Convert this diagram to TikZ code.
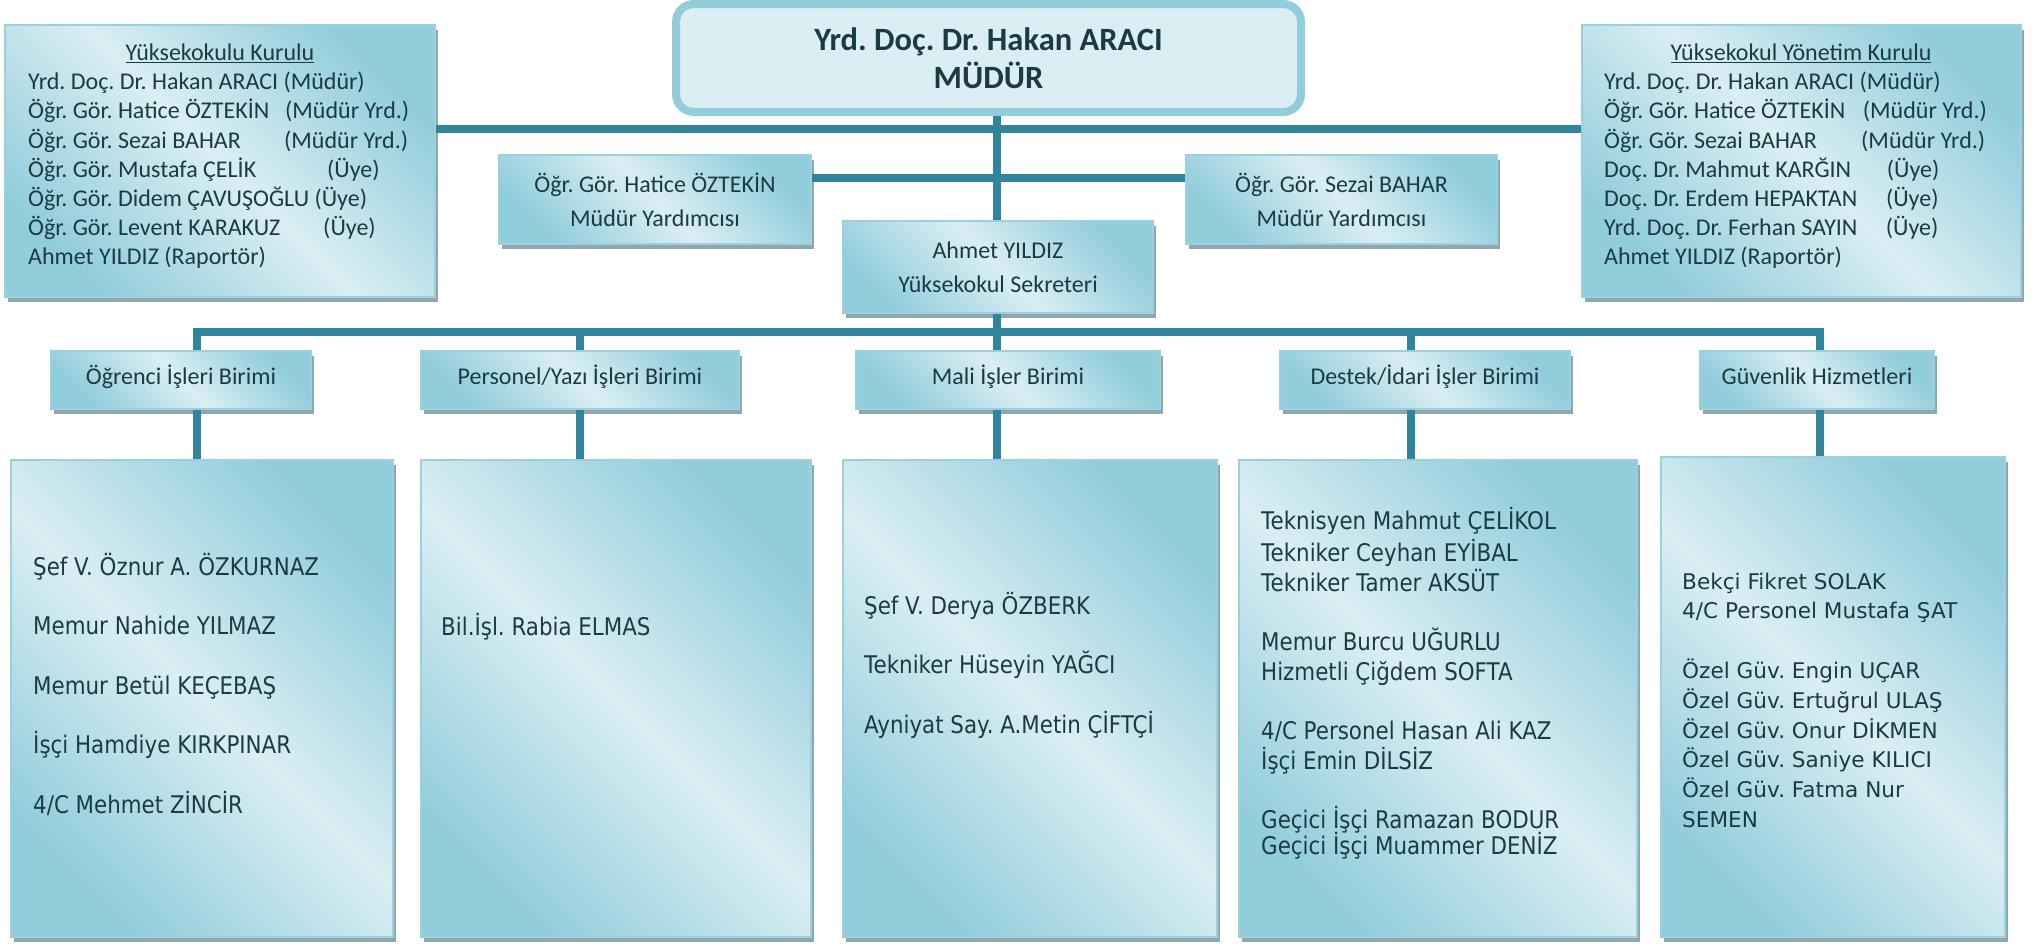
\documentclass[tikz,border=0pt]{standalone}
\usepackage{fontspec}
\setmainfont{Carlito}
\newfontfamily\tahoma[FakeStretch=0.88]{DejaVu Sans}
\newfontfamily\verdana{DejaVu Sans}
\usetikzlibrary{positioning,shadows}
\definecolor{acik}{HTML}{DAEEF3}
\definecolor{koyu}{HTML}{92CDDC}
\definecolor{cerceve}{HTML}{9BD1DF}
\definecolor{golge}{HTML}{8FA8AD}
\definecolor{hatrengi}{HTML}{31849B}
\definecolor{yazi}{HTML}{1B3A42}
\newcommand{\satir}[3]{\makebox[#1][l]{#2}#3}
\frenchspacing

\begin{document}
\begin{tikzpicture}[x=1pt, y=-1pt,
    kutu/.style={rectangle, draw=cerceve, line width=1.5pt, inner sep=0pt, text=yazi, align=center,
      top color=koyu, bottom color=koyu, middle color=acik, shading angle=-45,
      drop shadow={shadow xshift=3pt, shadow yshift=-5pt, fill=golge, opacity=1}},
    mudurkutu/.style={rectangle, rounded corners=18pt, draw=koyu, line width=8pt, fill=acik,
      minimum width=625pt, minimum height=108pt, align=center, text=yazi,
      font=\bfseries\fontsize{32.5}{38}\selectfont},
    baslik/.style={kutu, font=\fontsize{24}{34}\selectfont},
    birim/.style={kutu, minimum height=58pt, font=\fontsize{24}{29}\selectfont, text height=10pt, text depth=1.2pt},
    kadro/.style={kutu, minimum height=477pt},
    liste/.style={anchor=north west, inner sep=0pt, align=left, text=yazi},
    baglanti/.style={draw=hatrengi, line width=7.5pt}]
    \useasboundingbox[fill=white] (0,0) rectangle (2037,943);

    % kurullar
    \node[kutu, minimum width=430pt, minimum height=272pt] (kurul) at (220,161) {};
    \node[kutu, minimum width=439pt, minimum height=272pt] (yonetim) at (1801.5,161) {};
    \node[anchor=base, text=yazi, font=\fontsize{24}{29}\selectfont] (kurulbaslik) at (220,60.5) {\underline{Yüksekokulu Kurulu}};
    \node[anchor=base, text=yazi, font=\fontsize{24}{29}\selectfont] (yonetimbaslik) at (1801,60.5) {\underline{Yüksekokul Yönetim Kurulu}};
    \node[liste, font=\fontsize{24}{29.17}\selectfont] (kurulyazi) at (28,69.1) {\strut Yrd. Doç. Dr. Hakan ARACI (Müdür)\\
        \satir{257pt}{Öğr. Gör. Hatice ÖZTEKİN}{(Müdür Yrd.)}\\
        \satir{256pt}{Öğr. Gör. Sezai BAHAR}{(Müdür Yrd.)}\\
        \satir{299pt}{Öğr. Gör. Mustafa ÇELİK}{(Üye)}\\
        Öğr. Gör. Didem ÇAVUŞOĞLU (Üye)\\
        \satir{295pt}{Öğr. Gör. Levent KARAKUZ}{(Üye)}\\
        Ahmet YILDIZ (Raportör)};
    \node[liste, font=\fontsize{24}{29.17}\selectfont] (yonetimyazi) at (1604,69.1) {\strut Yrd. Doç. Dr. Hakan ARACI (Müdür)\\
        \satir{258.7pt}{Öğr. Gör. Hatice ÖZTEKİN}{(Müdür Yrd.)}\\
        \satir{257pt}{Öğr. Gör. Sezai BAHAR}{(Müdür Yrd.)}\\
        \satir{282.7pt}{Doç. Dr. Mahmut KARĞIN}{(Üye)}\\
        \satir{281.8pt}{Doç. Dr. Erdem HEPAKTAN}{(Üye)}\\
        \satir{281.8pt}{Yrd. Doç. Dr. Ferhan SAYIN}{(Üye)}\\
        Ahmet YILDIZ (Raportör)};

    % mudur, yardimcilar, sekreter
    \node[mudurkutu] (mudur) at (988.5,58) {Yrd. Doç. Dr. Hakan ARACI\\MÜDÜR};
    \node[baslik, minimum width=312pt, minimum height=89pt] (yrd1) at (655,199.5) {Öğr. Gör. Hatice ÖZTEKİN\\Müdür Yardımcısı};
    \node[baslik, minimum width=311pt, minimum height=89pt] (yrd2) at (1341.5,199.5) {Öğr. Gör. Sezai BAHAR\\Müdür Yardımcısı};
    \node[baslik, minimum width=310pt, minimum height=92pt] (sekreter) at (998,267) {Ahmet YILDIZ\\Yüksekokul Sekreteri};

    % birimler
    \node[birim, minimum width=260pt] (ogrenci) at (181,380) {Öğrenci İşleri Birimi};
    \node[birim, minimum width=318pt] (personel) at (580,380) {Personel/Yazı İşleri Birimi};
    \node[birim, minimum width=304pt] (mali) at (1008,380) {Mali İşler Birimi};
    \node[birim, minimum width=290pt] (destek) at (1425,380) {Destek/İdari İşler Birimi};
    \node[birim, minimum width=234pt] (guvenlik) at (1817,380) {Güvenlik Hizmetleri};

    % kadrolar
    \node[kadro, minimum width=382pt] (kadro1) at (202,698.5) {};
    \node[kadro, minimum width=390pt] (kadro2) at (616,698.5) {};
    \node[kadro, minimum width=374pt] (kadro3) at (1030,698.5) {};
    \node[kadro, minimum width=398pt] (kadro4) at (1438,698.5) {};
    \node[kadro, minimum width=344pt, minimum height=480pt] (kadro5) at (1833,697) {};

    \node[liste, font=\tahoma\fontsize{24.3}{59.5}\selectfont] (ogrenciyazi) at (33,533.4) {\strut Şef V. Öznur A. ÖZKURNAZ\\
        Memur Nahide YILMAZ\\Memur Betül KEÇEBAŞ\\İşçi Hamdiye KIRKPINAR\\4/C Mehmet ZİNCİR};
    \node[liste, font=\tahoma\fontsize{24.3}{59.5}\selectfont] (personelyazi) at (441,593.4) {\strut Bil.İşl. Rabia ELMAS};
    \node[liste, font=\tahoma\fontsize{24.3}{59.75}\selectfont] (maliyazi) at (864,572.2) {\strut Şef V. Derya ÖZBERK\\
        Tekniker Hüseyin YAĞCI\\Ayniyat Say. A.Metin ÇİFTÇİ};
    \node[liste, font=\tahoma\fontsize{24.3}{30}\selectfont] (destekyazi) at (1261,507) {\strut Teknisyen Mahmut ÇELİKOL\\
        Tekniker Ceyhan EYİBAL\\Tekniker Tamer AKSÜT\\[28.5pt]
        Memur Burcu UĞURLU\\Hizmetli Çiğdem SOFTA\\[29.5pt]
        4/C Personel Hasan Ali KAZ\\İşçi Emin DİLSİZ\\[29pt]
        Geçici İşçi Ramazan BODUR\\[-4pt]Geçici İşçi Muammer DENİZ};
    \node[liste, font=\verdana\fontsize{21.6}{29.7}\selectfont] (guvenlikyazi) at (1682,568) {\strut Bekçi Fikret SOLAK\\
        4/C Personel Mustafa ŞAT\\[30.3pt]
        Özel Güv. Engin UÇAR\\Özel Güv. Ertuğrul ULAŞ\\Özel Güv. Onur DİKMEN\\
        Özel Güv. Saniye KILICI\\Özel Güv. Fatma Nur\\SEMEN};

    % baglantilar
    \coordinate (ust) at (997,129);
    \coordinate (orta) at (997,178);
    \coordinate (k1) at (197,332);
    \coordinate (k2) at (580,332);
    \coordinate (k3) at (997,332);
    \coordinate (k4) at (1411,332);
    \coordinate (k5) at (1820,332);

    \draw[baglanti] (kurul.east |- ust) -- (yonetim.west |- ust);
    \draw[baglanti] (mudur.south -| k3) -- (sekreter.north -| k3);
    \draw[baglanti] (yrd1.east |- orta) -- (yrd2.west |- orta);
    \draw[baglanti] (sekreter.south -| k3) -- (k3);
    \draw[baglanti] (ogrenci.north -| k1) -- (k1) -- (k5) -- (guvenlik.north -| k5);
    \draw[baglanti] (k2) -- (personel.north -| k2);
    \draw[baglanti] (k3) -- (mali.north -| k3);
    \draw[baglanti] (k4) -- (destek.north -| k4);

    % birimden kadroya
    \draw[baglanti] (ogrenci.south -| k1) -- (kadro1.north -| k1);
    \draw[baglanti] (personel.south -| k2) -- (kadro2.north -| k2);
    \draw[baglanti] (mali.south -| k3) -- (kadro3.north -| k3);
    \draw[baglanti] (destek.south -| k4) -- (kadro4.north -| k4);
    \draw[baglanti] (guvenlik.south -| k5) -- (kadro5.north -| k5);
\end{tikzpicture}
\end{document}
